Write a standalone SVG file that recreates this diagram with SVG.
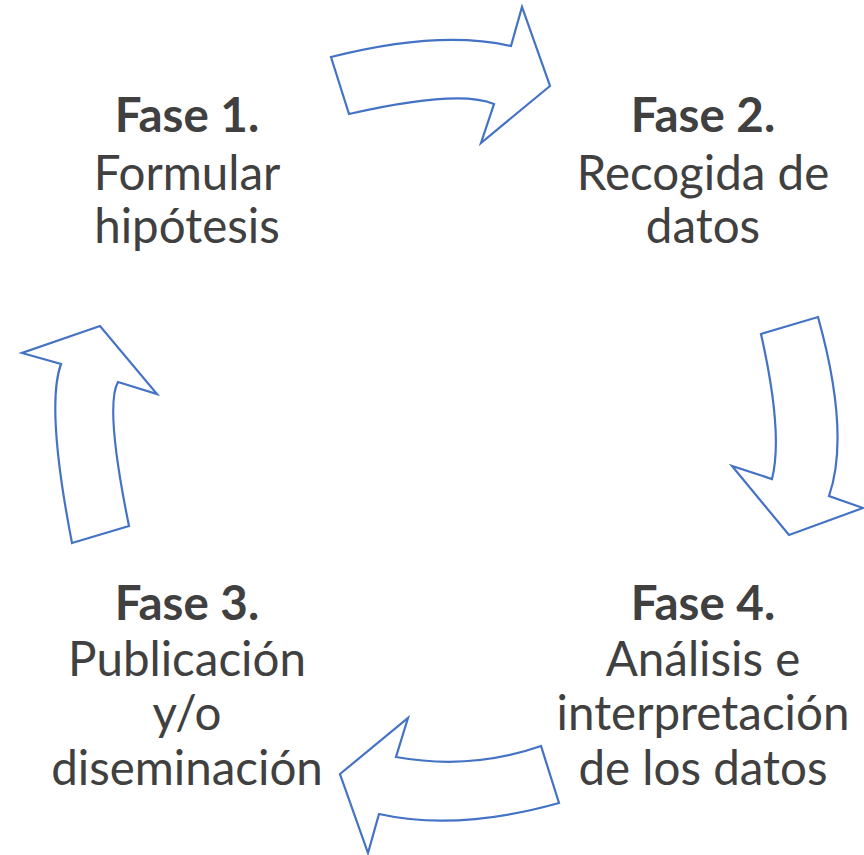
<svg xmlns="http://www.w3.org/2000/svg" width="864" height="855" viewBox="0 0 864 855">
<style>
.arrow{fill:#ffffff;stroke:#4472c4;stroke-width:2.2;stroke-linejoin:miter}
text{font-family:Lato,"Open Sans","Liberation Sans",sans-serif;font-size:47.5px;fill:#404040;text-anchor:middle}
.b{font-weight:bold}
</style>
<rect width="864" height="855" fill="#ffffff"/>
<g id="connectors">
<path class="arrow" d="M331,57 Q439,29.5 511,46 L522,7 L550,86 L481,143 L494,104 Q458.5,89 349,114 Z"/>
<path class="arrow" d="M761,334 L818,317 Q850.5,433.5 829,496 L863,508 L789,535 L732,466 L772,479 Q783.5,433.5 761,334 Z"/>
<path class="arrow" d="M541,746 Q471.5,770.5 396,757 L408,718 L340,774 L368,853 L379,814 Q457,831.5 559,803 Z"/>
<path class="arrow" d="M72,543 L129,526 Q104.5,406 118,382 L157,394 L100,326 L22,353 L61,364 Q45.5,406.5 72,543 Z"/>
</g>
<g id="node1">
<text x="187" y="132" class="b">Fase 1.</text>
<text x="187" y="190">Formular</text>
<text x="187" y="243">hipótesis</text>
</g>
<g id="node2">
<text x="703" y="132" class="b">Fase 2.</text>
<text x="703" y="190">Recogida de</text>
<text x="703" y="243">datos</text>
</g>
<g id="node3">
<text x="187" y="620" class="b">Fase 3.</text>
<text x="187" y="676">Publicación</text>
<text x="187" y="730">y/o</text>
<text x="187" y="785">diseminación</text>
</g>
<g id="node4">
<text x="703" y="620" class="b">Fase 4.</text>
<text x="703" y="676">Análisis e</text>
<text x="703" y="730">interpretación</text>
<text x="703" y="785">de los datos</text>
</g>
</svg>
